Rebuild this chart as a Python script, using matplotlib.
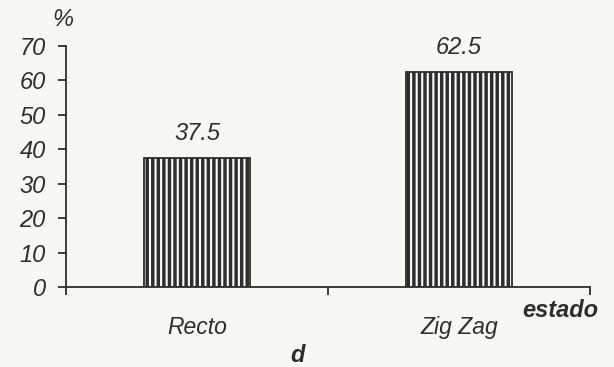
import matplotlib.pyplot as plt

# --- data ---
categories = ["Recto", "Zig Zag"]
values = [37.5, 62.5]
y_ticks = [0, 10, 20, 30, 40, 50, 60, 70]

plt.rcParams['font.family'] = ['Liberation Sans', 'DejaVu Sans']
plt.rcParams['hatch.linewidth'] = 2.5

ink = "#2e2e2e"
bg = "#f7f7f5"

fig = plt.figure(figsize=(6.14, 3.67), dpi=100, facecolor=bg)
ax = fig.add_axes([0.1075, 0.2180, 0.8535, 0.6567])
ax.set_facecolor(bg)

x = list(range(len(categories)))
ax.bar(x, values, width=0.405, color="white", edgecolor=ink,
       hatch="|||", linewidth=1.3, zorder=2)

# value labels above bars
for xi, v in zip(x, values):
    ax.annotate(f"{v}", (xi, v), xytext=(0, 9), textcoords="offset points",
                ha="center", va="bottom", fontsize=17, style="italic", color=ink)

ax.set_xlim(-0.5, 1.5)
ax.set_ylim(0, 70)
ax.set_yticks(y_ticks)
ax.set_yticklabels([str(t) for t in y_ticks], fontsize=17, style="italic", color=ink)

# category separators as ticks, labels in the middle
ax.set_xticks([-0.5, 0.5, 1.5])
ax.set_xticklabels([])
ax.set_xticks(x, minor=True)
ax.set_xticklabels(categories, minor=True, fontsize=16.5, style="italic", color=ink)
ax.tick_params(axis="x", which="minor", length=0, pad=21)
ax.tick_params(axis="x", which="major", direction="out", length=6, color=ink, width=1.3)
ax.tick_params(axis="y", direction="out", length=5.5, color=ink, width=1.3, pad=9)

for side in ["top", "right"]:
    ax.spines[side].set_visible(False)
for side in ["left", "bottom"]:
    ax.spines[side].set_color(ink)
    ax.spines[side].set_linewidth(1.3)

fig.text(0.103, 0.948, "%", fontsize=17, style="italic", color=ink, ha="center", va="center")
fig.text(0.912, 0.155, "estado", fontsize=17, style="italic", weight="bold", color=ink,
         ha="center", va="center")
fig.text(0.484, 0.032, "d", fontsize=17, style="italic", weight="bold", color=ink,
         ha="center", va="center")

fig.savefig("out.png", dpi=100, facecolor=bg)
